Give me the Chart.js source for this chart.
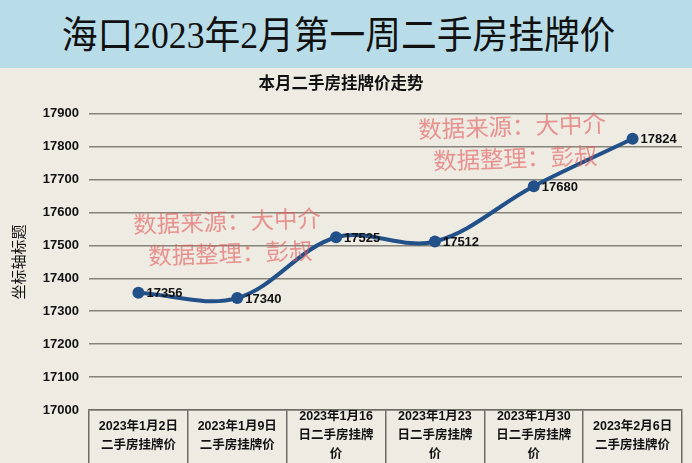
<!DOCTYPE html>
<html>
<head>
<meta charset="utf-8">
<script src="https://cdn.jsdelivr.net/npm/chart.js@4.4.0/dist/chart.umd.min.js"></script>
<style>
    body { margin: 0; width: 692px; height: 463px; overflow: hidden; background: #eeebe3; }
    .page { position: relative; width: 692px; height: 463px; }
    .banner {
        height: 68px;
        background: #b8dde9;
        text-align: center;
        line-height: 70px;
        font-family: "Liberation Serif", "Noto Sans CJK SC", serif;
        font-size: 38px;
        color: #111;
        white-space: nowrap;
    }
    .banner span { display: inline-block; transform: scaleX(0.94); margin-left: -14px; }
    .chart-box { position: relative; width: 692px; height: 395px; }
    .mark {
        position: absolute;
        font-family: "Noto Sans CJK SC", sans-serif;
        font-size: 23.5px;
        color: rgba(226, 92, 92, 0.62);
        white-space: nowrap;
        transform: rotate(-2deg);
    }
</style>
</head>
<body>
<div class="page">
    <div class="banner"><span>海口2023年2月第一周二手房挂牌价</span></div>
    <div class="chart-box"><canvas id="priceChart" width="692" height="395"></canvas></div>
    <div class="mark" style="left:133px; top:203px;">数据来源：大中介</div>
    <div class="mark" style="left:148px; top:235px;">数据整理：彭叔</div>
    <div class="mark" style="left:418px; top:108px;">数据来源：大中介</div>
    <div class="mark" style="left:433px; top:140px;">数据整理：彭叔</div>
</div>
<script>
// 周度挂牌价
const weekLabels = [
    ['2023年1月2日', '二手房挂牌价'],
    ['2023年1月9日', '二手房挂牌价'],
    ['2023年1月16', '日二手房挂牌', '价'],
    ['2023年1月23', '日二手房挂牌', '价'],
    ['2023年1月30', '日二手房挂牌', '价'],
    ['2023年2月6日', '二手房挂牌价']
];
const listPrices = [17356, 17340, 17525, 17512, 17680, 17824];
const yMin = 17000;
const yMax = 17900;
const yStep = 100;

const lineColor = '#225089';
const gridColor = '#86837b';
const textFont = '"Liberation Sans", "Noto Sans CJK SC", sans-serif';

// valori a destra dei punti
const pointValues = {
    id: 'pointValues',
    afterDatasetsDraw(chart) {
        const ctx = chart.ctx;
        const meta = chart.getDatasetMeta(0);
        ctx.save();
        ctx.font = 'bold 13px ' + textFont;
        ctx.fillStyle = '#111';
        ctx.textAlign = 'left';
        ctx.textBaseline = 'middle';
        meta.data.forEach((pt, i) => {
            ctx.fillText(listPrices[i], pt.x + 8, pt.y + 1);
        });
        ctx.restore();
    }
};

const ctx = document.getElementById('priceChart').getContext('2d');
new Chart(ctx, {
    type: 'line',
    data: {
        labels: weekLabels,
        datasets: [{
            data: listPrices,
            borderColor: lineColor,
            backgroundColor: lineColor,
            borderWidth: 4,
            tension: 0.35,
            pointRadius: 6,
            pointHoverRadius: 6,
            pointBackgroundColor: lineColor,
            pointBorderWidth: 0
        }]
    },
    options: {
        responsive: false,
        animation: false,
        events: [],
        layout: { padding: { left: 0, right: 10, top: 0, bottom: 0 } },
        plugins: {
            legend: { display: false },
            tooltip: { enabled: false },
            title: {
                display: true,
                text: '本月二手房挂牌价走势',
                color: '#111',
                font: { family: textFont, size: 16.5, weight: 'bold' },
                padding: { top: 7, bottom: 19 }
            }
        },
        scales: {
            x: {
                offset: true,
                afterFit: (scale) => { scale.height = 53; },
                grid: {
                    offset: true,
                    drawOnChartArea: false,
                    drawTicks: true,
                    tickLength: 60,
                    color: '#6f6c66',
                    lineWidth: 1.5
                },
                border: { display: true, color: '#6f6c66', width: 1.5 },
                ticks: {
                    color: '#111',
                    padding: -53,
                    maxRotation: 0,
                    autoSkip: false,
                    crossAlign: 'center',
                    font: { family: textFont, size: 12.5, weight: 'bold', lineHeight: 1.5 }
                }
            },
            y: {
                min: yMin,
                max: yMax,
                afterFit: (scale) => { scale.width = 89; },
                grid: { color: gridColor, lineWidth: 1.6, drawTicks: false },
                border: { display: false },
                ticks: {
                    stepSize: yStep,
                    padding: 10,
                    color: '#111',
                    font: { family: textFont, size: 13, weight: 'bold' },
                    callback: (v) => String(v)
                },
                title: {
                    display: true,
                    text: '坐标轴标题',
                    color: '#111',
                    font: { family: textFont, size: 15 },
                    padding: { top: 11, bottom: 0 }
                }
            }
        }
    },
    plugins: [pointValues]
});
</script>
</body>
</html>
